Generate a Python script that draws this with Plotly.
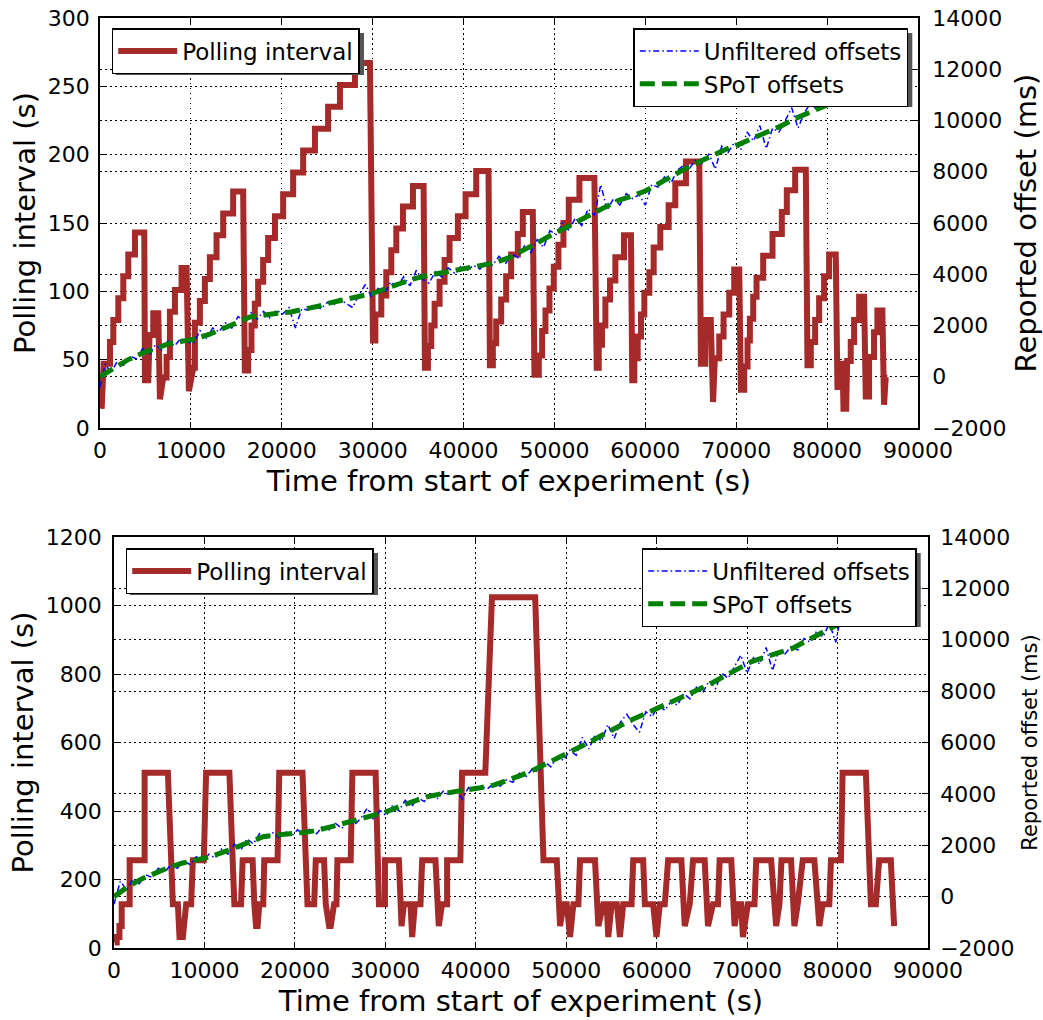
import plotly.graph_objects as go

# ---------------- data ----------------
# Top experiment: polling interval (s) vs time (s) -- vertices of the trace
top_poll = [
    (180, 14), (400, 47), (1099, 47), (1099, 63), (1466, 63), (1466, 79), (2015, 79), (2015, 95),
    (2564, 95), (2564, 111), (3114, 111), (3114, 127), (3846, 127), (3846, 143), (4872, 143),
    (4945, 35), (5311, 35), (5450, 68), (5861, 68), (5861, 84), (6411, 84), (6594, 21), (6960, 37),
    (7326, 37), (7326, 52), (7693, 52), (7693, 85), (8242, 85), (8242, 101), (8975, 101), (8975, 117),
    (9524, 117), (9780, 27), (10257, 44), (10440, 44), (10440, 77), (10990, 77), (10990, 93),
    (11540, 93), (11540, 109), (12089, 109), (12089, 125), (12821, 125), (12821, 141), (13554, 141),
    (13554, 157), (14650, 157), (14650, 173), (15750, 173), (15934, 42), (16300, 42), (16300, 57),
    (16667, 57), (16667, 75), (17033, 75), (17033, 91), (17400, 91), (17400, 107), (17950, 107),
    (17950, 123), (18500, 123), (18500, 139), (19250, 139), (19250, 155), (20150, 155), (20150, 171),
    (21250, 171), (21250, 187), (22350, 187), (22350, 203), (23650, 203), (23650, 219), (25100, 219),
    (25100, 235), (26400, 235), (26400, 251), (28050, 251), (28050, 267), (29700, 267), (30036, 64),
    (30300, 64), (30300, 83), (30952, 83), (30952, 97), (31501, 97), (31501, 114), (32051, 114),
    (32051, 130), (32600, 130), (32600, 146), (33333, 146), (33333, 162), (34432, 162), (34432, 177),
    (35604, 177), (35750, 44), (36080, 44), (36080, 60), (36446, 60), (36446, 75), (36813, 75),
    (36813, 91), (37362, 91), (37362, 107), (37912, 107), (37912, 123), (38461, 123), (38461, 139),
    (39377, 139), (39377, 155), (40220, 155), (40220, 171), (41392, 171), (41392, 188), (42747, 188),
    (42900, 46), (43223, 46), (43223, 62), (43589, 62), (43589, 78), (44138, 78), (44138, 94),
    (44688, 94), (44688, 111), (45237, 111), (45237, 127), (45970, 127), (45970, 142), (46520, 142),
    (46520, 158), (47620, 158), (47800, 39), (48278, 39), (48278, 53), (48645, 53), (48645, 71),
    (49011, 71), (49011, 86), (49450, 86), (49450, 102), (49927, 102), (49927, 118), (50440, 118),
    (50440, 134), (50990, 134), (50990, 150), (51575, 150), (51575, 167), (52747, 167), (52747, 183),
    (54395, 183), (54650, 44), (54871, 44), (54871, 61), (55237, 61), (55237, 75), (55604, 75),
    (55604, 94), (56116, 94), (56116, 108), (56703, 108), (56703, 125), (57650, 125), (57650, 141),
    (58420, 141), (58560, 35), (58791, 35), (58791, 51), (59158, 51), (59158, 67), (59524, 67),
    (59524, 83), (59890, 83), (59890, 99), (60440, 99), (60440, 114), (60916, 114), (60916, 132),
    (61648, 132), (61648, 147), (62564, 147), (62564, 163), (63297, 163), (63297, 179), (64469, 179),
    (64469, 195), (65934, 195), (66117, 47), (66600, 47), (66600, 79), (67200, 79), (67450, 19),
    (67650, 51), (68132, 51), (68132, 67), (68608, 67), (68608, 83), (69231, 83), (69231, 99),
    (69780, 99), (69780, 116), (70330, 116), (70513, 28), (70879, 28), (70879, 45), (71245, 45),
    (71245, 64), (71502, 64), (71502, 80), (71868, 80), (71868, 96), (72235, 96), (72235, 110),
    (72967, 110), (72967, 126), (73993, 126), (73993, 142), (75018, 142), (75018, 158), (75568, 158),
    (75568, 174), (76484, 174), (76484, 189), (77656, 189), (77839, 46), (78205, 46), (78205, 63),
    (78681, 63), (78681, 79), (79121, 79), (79121, 95), (79670, 95), (79670, 111), (80220, 111),
    (80220, 127), (80952, 127), (81136, 30), (81392, 30), (81392, 47), (81700, 47), (81800, 14),
    (82100, 14), (82200, 49), (82600, 49), (82600, 63), (82970, 63), (82970, 79), (83520, 79),
    (83520, 96), (84070, 96), (84250, 23), (84616, 23), (84616, 52), (85165, 52), (85165, 70),
    (85531, 70), (85531, 86), (86081, 86), (86264, 17), (86450, 37), (86630, 37),
]

# Top experiment: SPoT offsets (ms)
top_spot_t = [0, 1500, 3000, 4500, 6000, 7500, 9000, 10500, 12000, 13500, 15000, 16500, 18000,
              19500, 21000, 22500, 24000, 25500, 27000, 28500, 30000, 31500, 33000, 34500, 36000,
              37500, 39000, 40500, 42000, 43500, 45000, 46500, 48000, 49500, 51000, 52500, 54000,
              55500, 57000, 58500, 60000, 61500, 63000, 64500, 66000, 67500, 69000, 70500, 72000,
              73500, 75000, 76500, 78000, 79500, 80500]
top_spot_v = [0, 350, 650, 900, 1100, 1280, 1380, 1480, 1650, 1850, 2100, 2330, 2420, 2480, 2530,
              2620, 2750, 2900, 3020, 3120, 3250, 3450, 3650, 3820, 3950, 4050, 4150, 4250, 4330,
              4450, 4650, 4900, 5200, 5500, 5800, 6050, 6330, 6620, 6880, 7050, 7250, 7540, 7850,
              8140, 8400, 8660, 8900, 9100, 9330, 9560, 9800, 10080, 10330, 10530, 10680]

# Top experiment: unfiltered offsets (ms)
top_raw = [
    (0, -400), (600, 500), (1200, 150), (1900, 600), (2600, 450), (3300, 800), (4000, 700),
    (4700, 1100), (5400, 850), (6100, 1250), (6800, 1050), (7500, 1400), (8200, 1200), (8900, 1500),
    (9600, 1350), (10300, 1300), (11000, 1800), (11700, 1500), (12400, 1900), (13100, 1750),
    (13800, 2100), (14500, 1900), (15200, 2350), (15900, 2150), (16600, 2500), (17300, 2250),
    (18000, 2550), (18700, 2300), (19400, 2600), (20100, 2450), (20800, 2700), (21500, 1900),
    (22200, 2650), (22900, 2600), (23600, 2800), (24300, 2650), (25000, 2900), (25700, 2800),
    (26400, 3050), (27100, 2850), (27800, 2700), (28500, 3200), (29200, 3600), (29900, 3100),
    (30600, 3450), (31300, 3250), (32000, 3700), (32700, 3500), (33400, 3900), (34100, 3550),
    (34800, 4150), (35500, 3800), (36200, 3650), (36900, 4100), (37600, 3900), (38300, 4250),
    (39000, 4050), (39700, 4300), (40400, 4150), (41100, 4350), (41800, 4200), (42500, 4500),
    (43200, 4350), (43900, 4700), (44600, 4400), (45300, 4800), (46000, 4650), (46700, 5100),
    (47400, 4850), (48100, 5350), (48800, 5050), (49500, 5700), (50200, 5550), (50900, 6000),
    (51600, 5700), (52300, 6200), (53000, 5900), (53700, 6550), (54400, 6300), (55100, 7500),
    (55800, 6500), (56500, 6950), (57200, 6700), (57900, 7150), (58600, 6950), (59300, 7100),
    (60000, 6700), (60700, 7500), (61400, 7400), (62100, 7800), (62800, 7550), (63500, 8050),
    (64200, 8250), (64900, 8150), (65600, 8500), (66300, 8300), (67000, 8700), (67700, 8100),
    (68400, 9000), (69100, 8750), (69800, 9150), (70500, 8850), (71200, 9550), (71900, 9200),
    (72600, 9800), (73300, 8900), (74000, 9700), (74700, 9550), (75400, 10000), (76100, 10500),
    (76800, 9700), (77500, 10300), (78200, 10700), (78900, 10400), (79600, 10800), (80300, 10650),
    (80800, 10900),
]

# Bottom experiment: polling interval (s)
bot_poll = [
    (80, 16), (300, 16), (300, 32), (600, 32), (600, 64), (850, 64), (850, 128), (1731, 128),
    (1731, 256), (3385, 256), (3385, 512), (5958, 512), (6509, 128), (7060, 128), (7244, 32),
    (7611, 32), (7979, 128), (8530, 128), (8714, 256), (9926, 256), (10184, 512), (12756, 512),
    (13308, 128), (14043, 128), (14226, 256), (15329, 256), (15513, 128), (15700, 64), (15880, 64),
    (16064, 128), (16500, 128), (16615, 256), (18085, 256), (18269, 512), (20841, 512), (21393, 128),
    (22128, 128), (22310, 256), (23228, 256), (23413, 128), (23780, 64), (23964, 64), (24332, 128),
    (24600, 128), (24700, 256), (26170, 256), (26354, 512), (28926, 512), (29294, 128), (29956, 128),
    (29956, 256), (31499, 256), (31793, 64), (32050, 128), (32785, 128), (32969, 32), (33263, 128),
    (33888, 128), (34072, 256), (35542, 256), (35909, 64), (36277, 128), (36828, 128), (36828, 256),
    (38298, 256), (38482, 512), (41054, 512), (41789, 1024), (46567, 1024), (47486, 256),
    (48956, 256), (49323, 64), (49690, 128), (50058, 128), (50425, 32), (50793, 128), (51344, 128),
    (51528, 256), (53181, 256), (53549, 64), (54100, 128), (54468, 128), (54651, 32), (55019, 128),
    (55600, 128), (55938, 32), (56300, 128), (57224, 128), (57408, 256), (58509, 256), (58693, 128),
    (59612, 128), (59979, 32), (60350, 128), (60898, 128), (61265, 256), (62735, 256), (63103, 64),
    (63654, 128), (64022, 256), (65308, 256), (65675, 64), (66227, 128), (66778, 128), (66962, 256),
    (68248, 256), (68615, 64), (68983, 128), (69350, 128), (69534, 32), (70085, 128), (70820, 128),
    (71004, 256), (72658, 256), (73209, 64), (73576, 128), (73800, 256), (74863, 256), (75230, 64),
    (75598, 128), (76149, 256), (77435, 256), (77986, 64), (78354, 128), (79089, 128), (79273, 256),
    (80375, 256), (80559, 512), (83131, 512), (83683, 128), (84234, 128), (84601, 256), (85888, 256),
    (86255, 64),
]

# Bottom experiment: SPoT offsets (ms)
bot_spot_t = [0, 1500, 3000, 4500, 6000, 7500, 9000, 10500, 12000, 13500, 15000, 16500, 18000,
              19500, 21000, 22500, 24000, 25500, 27000, 28500, 30000, 31500, 33000, 34500, 36000,
              37500, 39000, 40500, 42000, 43500, 45000, 46500, 48000, 49500, 51000, 52500, 54000,
              55500, 57000, 58500, 60000, 61500, 63000, 64500, 66000, 67500, 69000, 70500, 72000,
              73500, 75000, 76500, 78000, 79500, 80500]
bot_spot_v = [0, 380, 680, 920, 1130, 1300, 1420, 1540, 1720, 1930, 2150, 2330, 2400, 2440, 2500,
              2580, 2720, 2850, 2990, 3130, 3290, 3500, 3700, 3880, 3990, 4060, 4140, 4240, 4340,
              4520, 4720, 4950, 5200, 5480, 5720, 6000, 6290, 6580, 6850, 7080, 7310, 7530, 7780,
              8040, 8300, 8600, 8880, 9150, 9330, 9480, 9660, 9950, 10230, 10500, 10680]

# Bottom experiment: unfiltered offsets (ms)
bot_raw = [
    (0, -300), (700, 600), (1400, 250), (2100, 700), (2800, 500), (3500, 850), (4200, 750),
    (4900, 1100), (5600, 950), (6300, 1250), (7000, 1100), (7700, 1400), (8400, 1250), (9100, 1550),
    (9800, 1400), (10500, 1650), (11200, 1500), (11900, 1850), (12600, 1650), (13300, 2050),
    (14000, 1800), (14700, 2250), (15400, 2050), (16100, 2450), (16800, 2250), (17500, 2500),
    (18200, 2300), (18900, 2550), (19600, 2350), (20300, 2600), (21000, 2400), (21700, 2650),
    (22400, 2450), (23100, 2750), (23800, 2600), (24500, 2850), (25200, 2650), (25900, 2950),
    (26600, 2800), (27300, 3050), (28000, 3450), (28700, 3000), (29400, 3350), (30100, 3150),
    (30800, 3550), (31500, 3350), (32200, 3750), (32900, 3500), (33600, 3850), (34300, 3700),
    (35000, 4000), (35700, 3800), (36400, 4100), (37100, 3950), (37800, 4150), (38500, 3800),
    (39200, 4250), (39900, 4100), (40600, 4300), (41300, 4200), (42000, 4400), (42700, 4300),
    (43400, 4550), (44100, 4450), (44800, 4800), (45500, 4650), (46200, 4950), (46900, 4850),
    (47600, 5250), (48300, 5050), (49000, 5450), (49700, 5300), (50400, 5700), (51100, 5500),
    (51800, 6200), (52500, 5750), (53200, 6300), (53900, 6050), (54600, 6700), (55300, 6150),
    (56000, 6800), (56700, 7100), (57400, 6700), (58100, 6400), (58800, 7200), (59500, 7000),
    (60200, 7450), (60900, 7250), (61600, 7600), (62300, 7450), (63000, 7900), (63700, 7700),
    (64400, 8150), (65100, 7950), (65800, 8400), (66500, 8100), (67200, 8700), (67900, 8500),
    (68600, 8950), (69300, 9400), (70000, 8700), (70700, 9300), (71400, 9050), (72100, 9700),
    (72800, 8800), (73500, 9600), (74200, 9450), (74900, 9750), (75600, 9600), (76300, 10050),
    (77000, 9900), (77700, 10350), (78400, 10100), (79100, 10650), (79800, 9900), (80300, 10800),
    (80700, 10600),
]

x_ticks = [0, 10000, 20000, 30000, 40000, 50000, 60000, 70000, 80000, 90000]

# ---------------- figure ----------------
W, H = 1043, 1020
RED = "#a52a2a"
FONT = "DejaVu Sans"


def unzip(pairs):
    return [p[0] for p in pairs], [p[1] for p in pairs]


fig = go.Figure()

tp_t, tp_v = unzip(top_poll)
tr_t, tr_v = unzip(top_raw)
bp_t, bp_v = unzip(bot_poll)
br_t, br_v = unzip(bot_raw)

RAW_DASH = "6px,3px,1.5px,3px"
SPOT_DASH = "15px,7px"

fig.add_trace(go.Scatter(x=tp_t, y=tp_v, mode="lines", name="Polling interval", showlegend=True,
                         line=dict(color=RED, width=6), xaxis="x", yaxis="y", legend="legend"))
fig.add_trace(go.Scatter(x=tr_t, y=tr_v, mode="lines", name="Unfiltered offsets", showlegend=True,
                         line=dict(color="blue", width=1.5, dash=RAW_DASH),
                         xaxis="x", yaxis="y2", legend="legend2"))
fig.add_trace(go.Scatter(x=top_spot_t, y=top_spot_v, mode="lines", name="SPoT offsets", showlegend=True,
                         line=dict(color="green", width=5, dash=SPOT_DASH),
                         xaxis="x", yaxis="y2", legend="legend2"))

fig.add_trace(go.Scatter(x=bp_t, y=bp_v, mode="lines", name="Polling interval", showlegend=True,
                         line=dict(color=RED, width=6), xaxis="x2", yaxis="y3", legend="legend3"))
fig.add_trace(go.Scatter(x=br_t, y=br_v, mode="lines", name="Unfiltered offsets", showlegend=True,
                         line=dict(color="blue", width=1.5, dash=RAW_DASH),
                         xaxis="x2", yaxis="y4", legend="legend4"))
fig.add_trace(go.Scatter(x=bot_spot_t, y=bot_spot_v, mode="lines", name="SPoT offsets", showlegend=True,
                         line=dict(color="green", width=5, dash=SPOT_DASH),
                         xaxis="x2", yaxis="y4", legend="legend4"))

grid = dict(showgrid=True, gridcolor="black", gridwidth=1, griddash="1.5px,3.5px")
axis_common = dict(showline=True, linecolor="black", linewidth=1.5, ticks="inside", ticklen=6,
                   tickcolor="black", tickwidth=1.2, zeroline=False, automargin=False,
                   tickfont=dict(family=FONT, size=22, color="black"), **grid)

top_dom_x = [100 / W, 918 / W]
top_dom_y = [1 - 428 / H, 1 - 18 / H]
bot_dom_x = [114 / W, 928 / W]
bot_dom_y = [1 - 948 / H, 1 - 537 / H]

TF = dict(family=FONT, size=29, color="black")
xtitle = dict(text="Time from start of experiment (s)", font=TF, standoff=9)

fig.update_layout(
    width=W, height=H, margin=dict(l=0, r=0, t=0, b=0, autoexpand=False),
    paper_bgcolor="white", plot_bgcolor="white", showlegend=True,
    font=dict(family=FONT, color="black"),
    xaxis=dict(domain=top_dom_x, anchor="y", range=[0, 90000], tickvals=x_ticks, tickformat="d",
               mirror="ticks", title=xtitle, ticklabelstandoff=2, **axis_common),
    yaxis=dict(domain=top_dom_y, anchor="x", range=[0, 300], dtick=50, tickformat="d",
               ticklabelstandoff=4,
               title=dict(text="Polling interval (s)", font=TF, standoff=4), **axis_common),
    yaxis2=dict(overlaying="y", side="right", anchor="x", range=[-2000, 14000], dtick=2000,
                tickformat="d", ticklabelstandoff=8,
                title=dict(text="Reported offset (ms)", font=TF, standoff=10), **axis_common),
    xaxis2=dict(domain=bot_dom_x, anchor="y3", range=[0, 90000], tickvals=x_ticks, tickformat="d",
                mirror="ticks", title=xtitle, ticklabelstandoff=2, **axis_common),
    yaxis3=dict(domain=bot_dom_y, anchor="x2", range=[0, 1200], dtick=200, tickformat="d",
                ticklabelstandoff=6,
                title=dict(text="Polling interval (s)", font=TF, standoff=4), **axis_common),
    yaxis4=dict(overlaying="y3", side="right", anchor="x2", range=[-2000, 14000], dtick=2000,
                tickformat="d", ticklabelstandoff=6,
                title=dict(text="Reported offset (ms)", font=dict(family=FONT, size=21, color="black"),
                           standoff=9), **axis_common),
)

leg_common = dict(bgcolor="white", bordercolor="black", borderwidth=1.5,
                  font=dict(family=FONT, size=23, color="black"), itemwidth=59,
                  xref="paper", yref="paper", yanchor="top")
fig.update_layout(
    legend=dict(x=111.7 / W, y=1 - 28 / H, xanchor="left", **leg_common),
    legend2=dict(x=908.3 / W, y=1 - 28 / H, xanchor="right", **leg_common),
    legend3=dict(x=125.7 / W, y=1 - 548 / H, xanchor="left", **leg_common),
    legend4=dict(x=916.7 / W, y=1 - 548 / H, xanchor="right", **leg_common),
)

# legend drop shadows (drawn above traces, beneath the legends)
shadow_boxes = [(111.7, 29, 360, 71), (632, 29, 908.3, 103),
                (125.7, 549, 374, 591), (640, 549, 916.7, 623)]
for (x0, y0, x1, y1) in shadow_boxes:
    fig.add_shape(type="rect", xref="paper", yref="paper", layer="above",
                  x0=(x0 + 4) / W, x1=(x1 + 4) / W, y0=1 - (y1 + 4) / H, y1=1 - (y0 + 4) / H,
                  fillcolor="#555555", line=dict(width=0))

fig.write_html("out.html")
